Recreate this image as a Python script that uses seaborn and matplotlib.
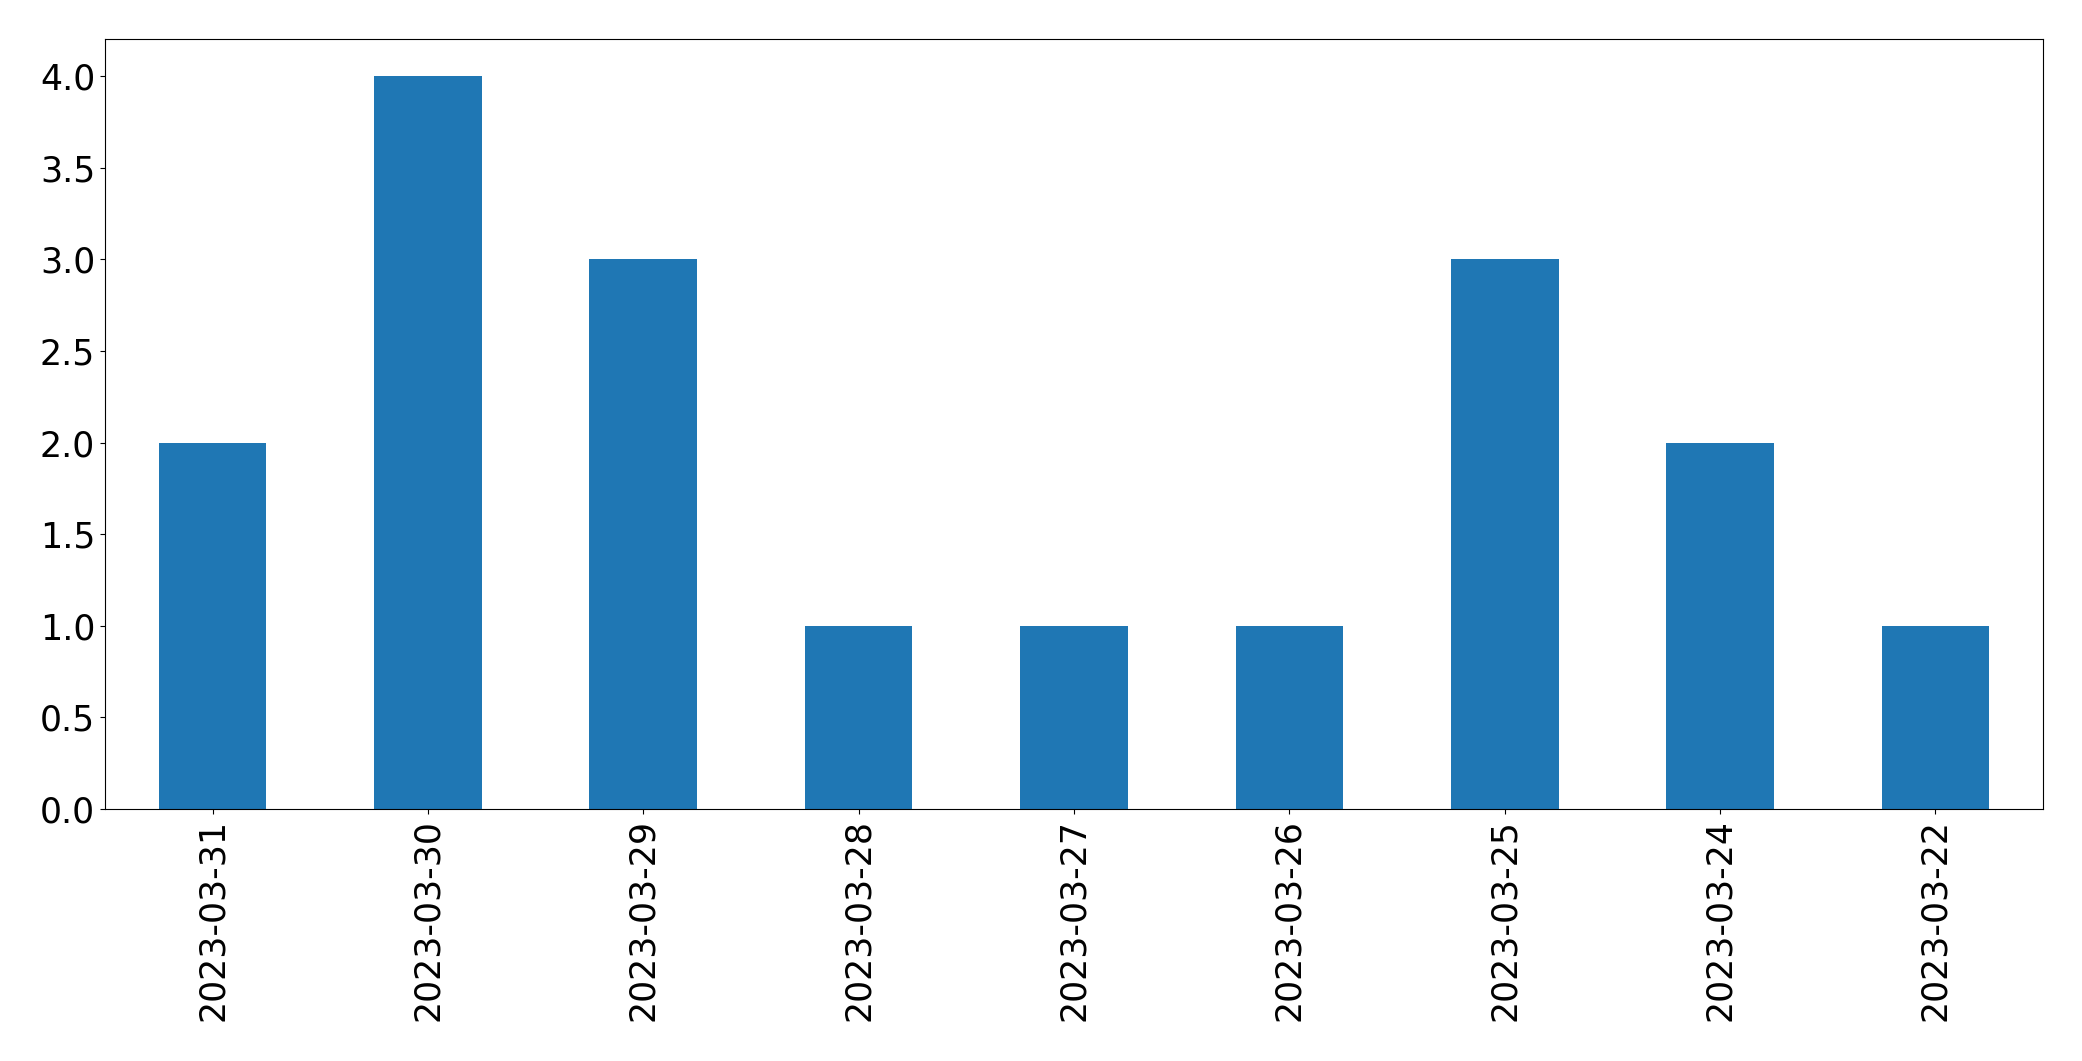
import pandas as pd
import matplotlib
matplotlib.use("Agg")
import matplotlib.pyplot as plt
import seaborn as sns

# counts per day, in the order shown on the chart
dates = ['2023-03-31', '2023-03-30', '2023-03-29', '2023-03-28', '2023-03-27',
         '2023-03-26', '2023-03-25', '2023-03-24', '2023-03-22']
counts = [2, 4, 3, 1, 1, 1, 3, 2, 1]

df = pd.DataFrame({'date': dates, 'count': counts})

fig = plt.figure(figsize=(20.82, 10.61), dpi=100)
ax = fig.add_axes([0.0504, 0.2375, 0.9309, 0.7253])

sns.barplot(data=df, x='date', y='count', order=dates, color='#1f77b4',
            saturation=1, width=0.5, ax=ax)

ax.set_xlim(-0.5, len(dates) - 0.5)
ax.set_ylim(0, 4.2)
ax.set_yticks([0, 0.5, 1.0, 1.5, 2.0, 2.5, 3.0, 3.5, 4.0])
ax.set_yticklabels(['0.0', '0.5', '1.0', '1.5', '2.0', '2.5', '3.0', '3.5', '4.0'])
ax.set_xlabel('')
ax.set_ylabel('')
ax.tick_params(axis='both', labelsize=25)
plt.setp(ax.get_xticklabels(), rotation=90)

fig.savefig('out.png', dpi=100)
plt.close(fig)
